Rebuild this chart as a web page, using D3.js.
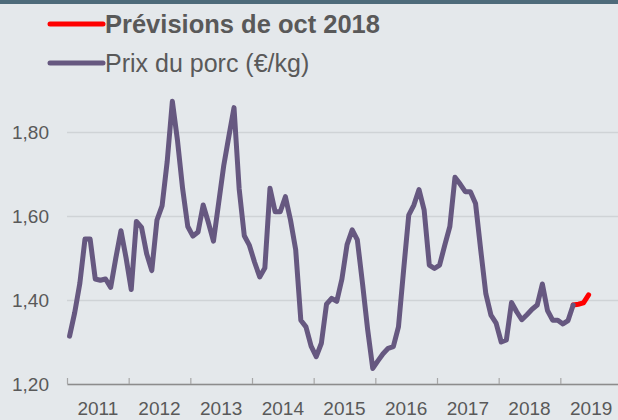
<!DOCTYPE html>
<html>
    <head>
        <meta charset="utf-8">
        <script src="https://cdn.jsdelivr.net/npm/d3@7/dist/d3.min.js"></script>
    </head>
    <style>
        body { margin: 0; background: #e4e8eb; }
        text { font-family: "Liberation Sans", Arial, sans-serif; fill: #595959; }
    </style>
    <body>
        <div id="canvas"></div>
        <script>
            // monthly pig price, jan 2011 .. oct 2018 (index 0 = jan 2011)
            var prix = [
                1.314, 1.37, 1.44, 1.545, 1.545, 1.45, 1.447, 1.45, 1.43, 1.50,
                1.565, 1.50, 1.425, 1.587, 1.573, 1.51, 1.47, 1.59, 1.624, 1.73,
                1.873, 1.78, 1.665, 1.575, 1.552, 1.562, 1.626, 1.585, 1.54, 1.63,
                1.72, 1.79, 1.858, 1.665, 1.553, 1.53, 1.49, 1.455, 1.476, 1.666,
                1.61, 1.61, 1.646, 1.59, 1.52, 1.352, 1.336, 1.29, 1.265, 1.297,
                1.39, 1.404, 1.397, 1.45, 1.532, 1.567, 1.543, 1.44, 1.33, 1.237,
                1.255, 1.272, 1.285, 1.289, 1.336, 1.471, 1.602, 1.626, 1.663, 1.614,
                1.483, 1.475, 1.483, 1.53, 1.575, 1.692, 1.676, 1.658, 1.658, 1.63,
                1.52, 1.415, 1.364, 1.345, 1.30, 1.305, 1.394, 1.372, 1.353, 1.365,
                1.378, 1.388, 1.438, 1.375, 1.352, 1.352, 1.343, 1.351, 1.388
            ];
            // forecast starts at the last known month
            var prevStart = 98;
            var previsions = [1.388, 1.39, 1.393, 1.412];

            var annees = ['2011', '2012', '2013', '2014', '2015', '2016', '2017', '2018', '2019'];
            var yTicks = [1.2, 1.4, 1.6, 1.8];
            var legende = ['Prévisions de oct 2018', 'Prix du porc (€/kg)'];

            const w = 618;
            const h = 420;
            const x0 = 67;
            const nMois = annees.length * 12;

            var x = d3.scaleLinear().domain([0, nMois]).range([x0, 622]);
            var y = d3.scaleLinear().domain([1.2, 1.9]).range([384, 90]);

            const svg = d3.select('#canvas')
                .append('svg')
                .attr('width', w)
                .attr('height', h);

            svg.append('rect')
                .attr('width', w).attr('height', h)
                .attr('fill', '#e4e8eb');
            svg.append('rect')
                .attr('width', w).attr('height', 4)
                .attr('fill', '#4e6b7a');

            // grid + y labels
            var yAxis = d3.axisLeft(y)
                .tickValues(yTicks)
                .tickSize(-(w - x0))
                .tickPadding(18)
                .tickFormat(d => d.toFixed(2).replace('.', ','));
            var gy = svg.append('g')
                .attr('transform', `translate(${x0},0)`)
                .call(yAxis);
            gy.select('.domain').remove();
            gy.selectAll('line')
                .attr('stroke', '#cfd3d6')
                .attr('stroke-width', 1.5);
            gy.selectAll('text')
                .attr('font-size', '19px')
                .attr('fill', '#595959');

            // x axis, ticks on year boundaries pointing up
            var xAxis = d3.axisBottom(x)
                .tickValues(d3.range(0, nMois, 12))
                .tickSizeInner(-6)
                .tickSizeOuter(0)
                .tickFormat('');
            var gx = svg.append('g')
                .attr('transform', `translate(0,${y(1.2)})`)
                .call(xAxis);
            gx.select('.domain')
                .attr('stroke', '#8c8c8c')
                .attr('stroke-width', 1.5);
            gx.selectAll('line')
                .attr('stroke', '#a6a6a6')
                .attr('stroke-width', 1.2);

            svg.selectAll('.annee')
                .data(annees)
                .enter()
                .append('text')
                .attr('class', 'annee')
                .attr('x', (d, i) => x(i * 12 + 6))
                .attr('y', 415)
                .attr('text-anchor', 'middle')
                .attr('font-size', '19px')
                .text(d => d);

            // lines
            var line = d3.line()
                .x(d => x(d[0] + 0.5))
                .y(d => y(d[1]));

            svg.append('path')
                .datum(previsions.map((v, i) => [prevStart + i, v]))
                .attr('d', line)
                .attr('fill', 'none')
                .attr('stroke', '#ff0000')
                .attr('stroke-width', 5)
                .attr('stroke-linecap', 'round')
                .attr('stroke-linejoin', 'round');

            svg.append('path')
                .datum(prix.map((v, i) => [i, v]))
                .attr('d', line)
                .attr('fill', 'none')
                .attr('stroke', '#665880')
                .attr('stroke-width', 5)
                .attr('stroke-linecap', 'round')
                .attr('stroke-linejoin', 'round');

            // legend
            var couleurs = ['#ff0000', '#665880'];
            var leg = svg.selectAll('.leg')
                .data(legende)
                .enter()
                .append('g')
                .attr('class', 'leg')
                .attr('transform', (d, i) => `translate(0,${24 + i * 39})`);
            leg.append('line')
                .attr('x1', 50).attr('x2', 103)
                .attr('stroke', (d, i) => couleurs[i])
                .attr('stroke-width', 5)
                .attr('stroke-linecap', 'round');
            leg.append('text')
                .attr('x', 105)
                .attr('y', 9)
                .attr('font-size', (d, i) => i == 0 ? '25.5px' : '25px')
                .attr('font-weight', (d, i) => i == 0 ? 'bold' : 'normal')
                .text(d => d);
        </script>
    </body>
</html>
